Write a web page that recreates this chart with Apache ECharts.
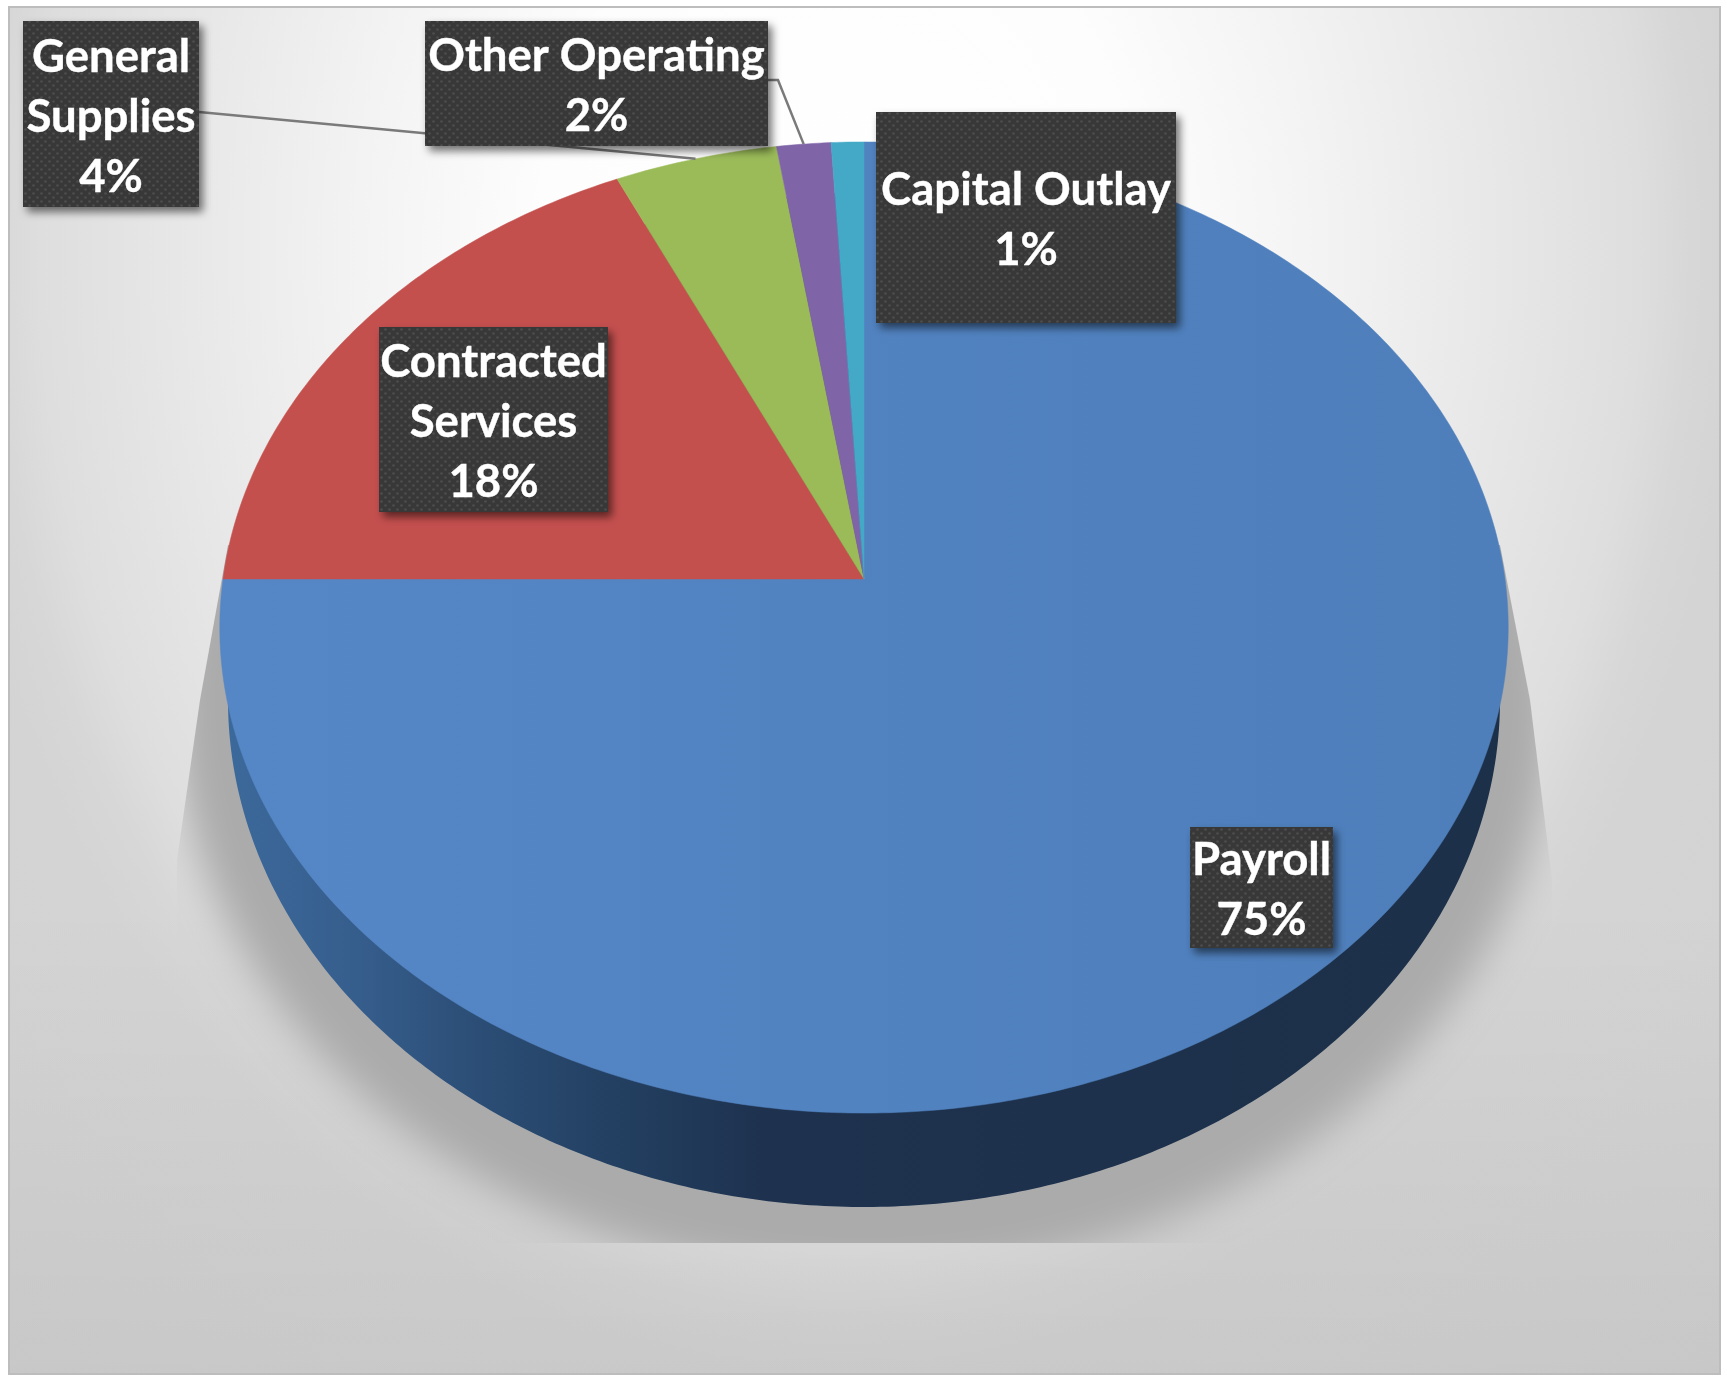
<!DOCTYPE html>
<html>
<head>
<meta charset="utf-8">
<style>html,body{margin:0;padding:0;background:#fff}#c{width:1727px;height:1376px}</style>
<script src="https://cdn.jsdelivr.net/npm/echarts@6/dist/echarts.min.js"></script>
</head>
<body>
<div id="c"></div>
<script>
// ---- data ----
const categories = ['Payroll', 'Contracted\nServices', 'General\nSupplies', 'Other Operating', 'Capital Outlay'];
const shares = [75, 18.1, 4.5, 1.5, 0.9];
const percentLabels = ['75%', '18%', '4%', '2%', '1%'];

// ---- styles & layout ----
const sliceColors = ['#5082c0', '#c4504e', '#9bbb59', '#8064a8', '#43a9c6'];
const boxes = [[1190, 827, 143, 121], [379, 327, 229, 185], [23, 21, 176, 186], [425, 21, 343, 125], [876, 112, 300, 211]];
const FRAME = {x: 9, y: 7, w: 1711, h: 1367};
const APEX = {x: 864, y: 579};
const R = 641, B = 480.7, K = 0.0999;
const WALL = {x: 864, y: 700, rx: 636, ry: 507};
const BG = {x: 840, y: 250, s: 1.25};
const OFF = 3000;
const total = shares.reduce((a, b) => a + b, 0);
const cum = [];
shares.reduce((a, v, i) => (cum[i] = a, a + v), 0);
const angle = s => s / total * 2 * Math.PI;
// perspective map of the pie's disc
function facePoint(t) {
  const sx = Math.sin(t), cy = Math.cos(t), d = 1 + K * cy;
  return [APEX.x + R * sx / d, APEX.y - B * cy / d];
}
function wallPoint(t) {
  return [WALL.x + WALL.rx * Math.sin(t), WALL.y - WALL.ry * Math.cos(t)];
}
function wedge(i, fn, centre) {
  const a = angle(cum[i]), b = angle(cum[i] + shares[i]);
  const n = Math.max(4, Math.ceil((b - a) * 90));
  const pts = [centre];
  for (let k = 0; k <= n; k++) pts.push(fn(a + (b - a) * k / n));
  return pts;
}
// dotted fabric of the label boxes
const tile = document.createElement('canvas');
tile.width = tile.height = 8;
(function () {
  const c = tile.getContext('2d');
  c.fillStyle = '#383838'; c.fillRect(0, 0, 8, 8);
  c.fillStyle = '#4e4e4e';
  [[1, 1], [5, 5]].forEach(p => { c.beginPath(); c.arc(p[0] + .5, p[1] + .5, 1.3, 0, 7); c.fill(); });
})();

const wallFill = new echarts.graphic.LinearGradient(228, 0, 1500, 0, [
  {offset: 0, color: '#3c699b'}, {offset: 0.1, color: '#365e8d'}, {offset: 0.18, color: '#2d5079'},
  {offset: 0.3, color: '#234062'}, {offset: 0.42, color: '#1e324f'}, {offset: 1, color: '#1c3049'}
], true);
const faceFill = new echarts.graphic.LinearGradient(219, 0, 1509, 0, [
  {offset: 0, color: '#5586c6'}, {offset: 1, color: '#4e7fbb'}
], true);

const option = {
  animation: false,
  backgroundColor: '#ffffff',
  graphic: [{
    type: 'rect', z: -3, silent: true,
    scaleY: BG.s, originY: BG.y, originX: BG.x,
    shape: {x: FRAME.x, y: BG.y + (FRAME.y - BG.y) / BG.s, width: FRAME.w, height: FRAME.h / BG.s},
    style: {
      fill: new echarts.graphic.RadialGradient(BG.x, BG.y, 1300, [
        {offset: 0, color: '#ffffff'}, {offset: 0.23, color: '#fdfdfd'}, {offset: 0.37, color: '#f3f3f3'},
        {offset: 0.523, color: '#e6e6e6'}, {offset: 0.615, color: '#dedede'}, {offset: 0.638, color: '#dadada'},
        {offset: 0.654, color: '#d7d7d7'}, {offset: 0.692, color: '#d4d4d4'}, {offset: 1, color: '#d2d2d2'}
      ], true)
    }
  }, {
    type: 'rect', z: -2, silent: true,
    shape: {x: FRAME.x, y: 900, width: FRAME.w, height: FRAME.y + FRAME.h - 900},
    style: {
      fill: new echarts.graphic.LinearGradient(0, 900, 0, 1374, [
        {offset: 0, color: 'rgba(0,0,0,0)'}, {offset: 1, color: 'rgba(0,0,0,0.05)'}
      ], true)
    }
  }, {
    type: 'rect', z: -1, silent: true,
    shape: {x: FRAME.x, y: FRAME.y, width: FRAME.w, height: FRAME.h},
    style: {fill: 'none', stroke: '#bdbdbd', lineWidth: 2}
  }],
  series: [
    // soft floor shadow: only the blurred shadow of an off-canvas disc lands on the page
    {
      type: 'custom', coordinateSystem: 'none', silent: true, z: 2, data: [total],
      renderItem: () => ({
        type: 'ellipse',
        shape: {cx: WALL.x - OFF, cy: WALL.y, rx: WALL.rx + 54, ry: WALL.ry + 72},
        style: {fill: '#ababab', shadowBlur: 40, shadowOffsetX: OFF, shadowColor: '#ababab'},
        clipPath: {type: 'polygon', shape: {points: [[228, 545], [200, 700], [177, 860], [177, 1243], [1552, 1243], [1552, 880], [1530, 700], [1500, 545]]}}
      })
    },
    // side wall
    {
      type: 'custom', coordinateSystem: 'none', silent: true, z: 3, data: shares,
      renderItem: p => ({
        type: 'polygon',
        shape: {points: wedge(p.dataIndex, wallPoint, [WALL.x, WALL.y])},
        style: {fill: p.dataIndex === 0 ? wallFill : '#1c3049'}
      })
    },
    // top face
    {
      type: 'custom', coordinateSystem: 'none', silent: true, z: 4, data: shares,
      renderItem: p => ({
        type: 'polygon',
        shape: {points: wedge(p.dataIndex, facePoint, [APEX.x, APEX.y])},
        style: {fill: p.dataIndex === 0 ? faceFill : sliceColors[p.dataIndex], stroke: p.dataIndex === 0 ? faceFill : sliceColors[p.dataIndex], lineWidth: 0.5}
      })
    },
    // leader lines for the two narrow outer slices
    {
      type: 'custom', coordinateSystem: 'none', silent: true, z: 5, data: shares,
      renderItem: p => {
        const i = p.dataIndex;
        if (i !== 2 && i !== 3) return null;
        const m = facePoint(angle(cum[i] + shares[i] / 2));
        const pts = i === 2 ? [[199, 112], m] : [[768, 80], [778, 80], m];
        return {type: 'polyline', shape: {points: pts}, style: {fill: 'none', stroke: '#7a7a7a', lineWidth: 2.5}};
      }
    },
    // data labels
    {
      type: 'custom', coordinateSystem: 'none', silent: true, z: 6, data: shares,
      renderItem: p => {
        const i = p.dataIndex, b = boxes[i];
        return {
          type: 'group',
          children: [{
            type: 'rect', z2: 1,
            shape: {x: b[0], y: b[1], width: b[2], height: b[3]},
            style: {fill: {image: tile, repeat: 'repeat'}, shadowBlur: 9, shadowOffsetX: 4, shadowOffsetY: 5, shadowColor: 'rgba(0,0,0,0.55)'}
          }, {
            type: 'text', z2: 2,
            style: {
              text: categories[i] + '\n' + percentLabels[i],
              x: b[0] + b[2] / 2, y: b[1] + b[3] / 2 + 3,
              align: 'center', verticalAlign: 'middle',
              fontFamily: 'Lato', fontWeight: 'bold', fontSize: 45.5, lineHeight: 60,
              fill: '#ffffff', stroke: '#ffffff', lineWidth: 0.4
            }
          }]
        };
      }
    }
  ]
};
const chart = echarts.init(document.getElementById('c'), null, {renderer: 'canvas', width: 1727, height: 1376});
chart.setOption(option);
</script>
</body>
</html>
